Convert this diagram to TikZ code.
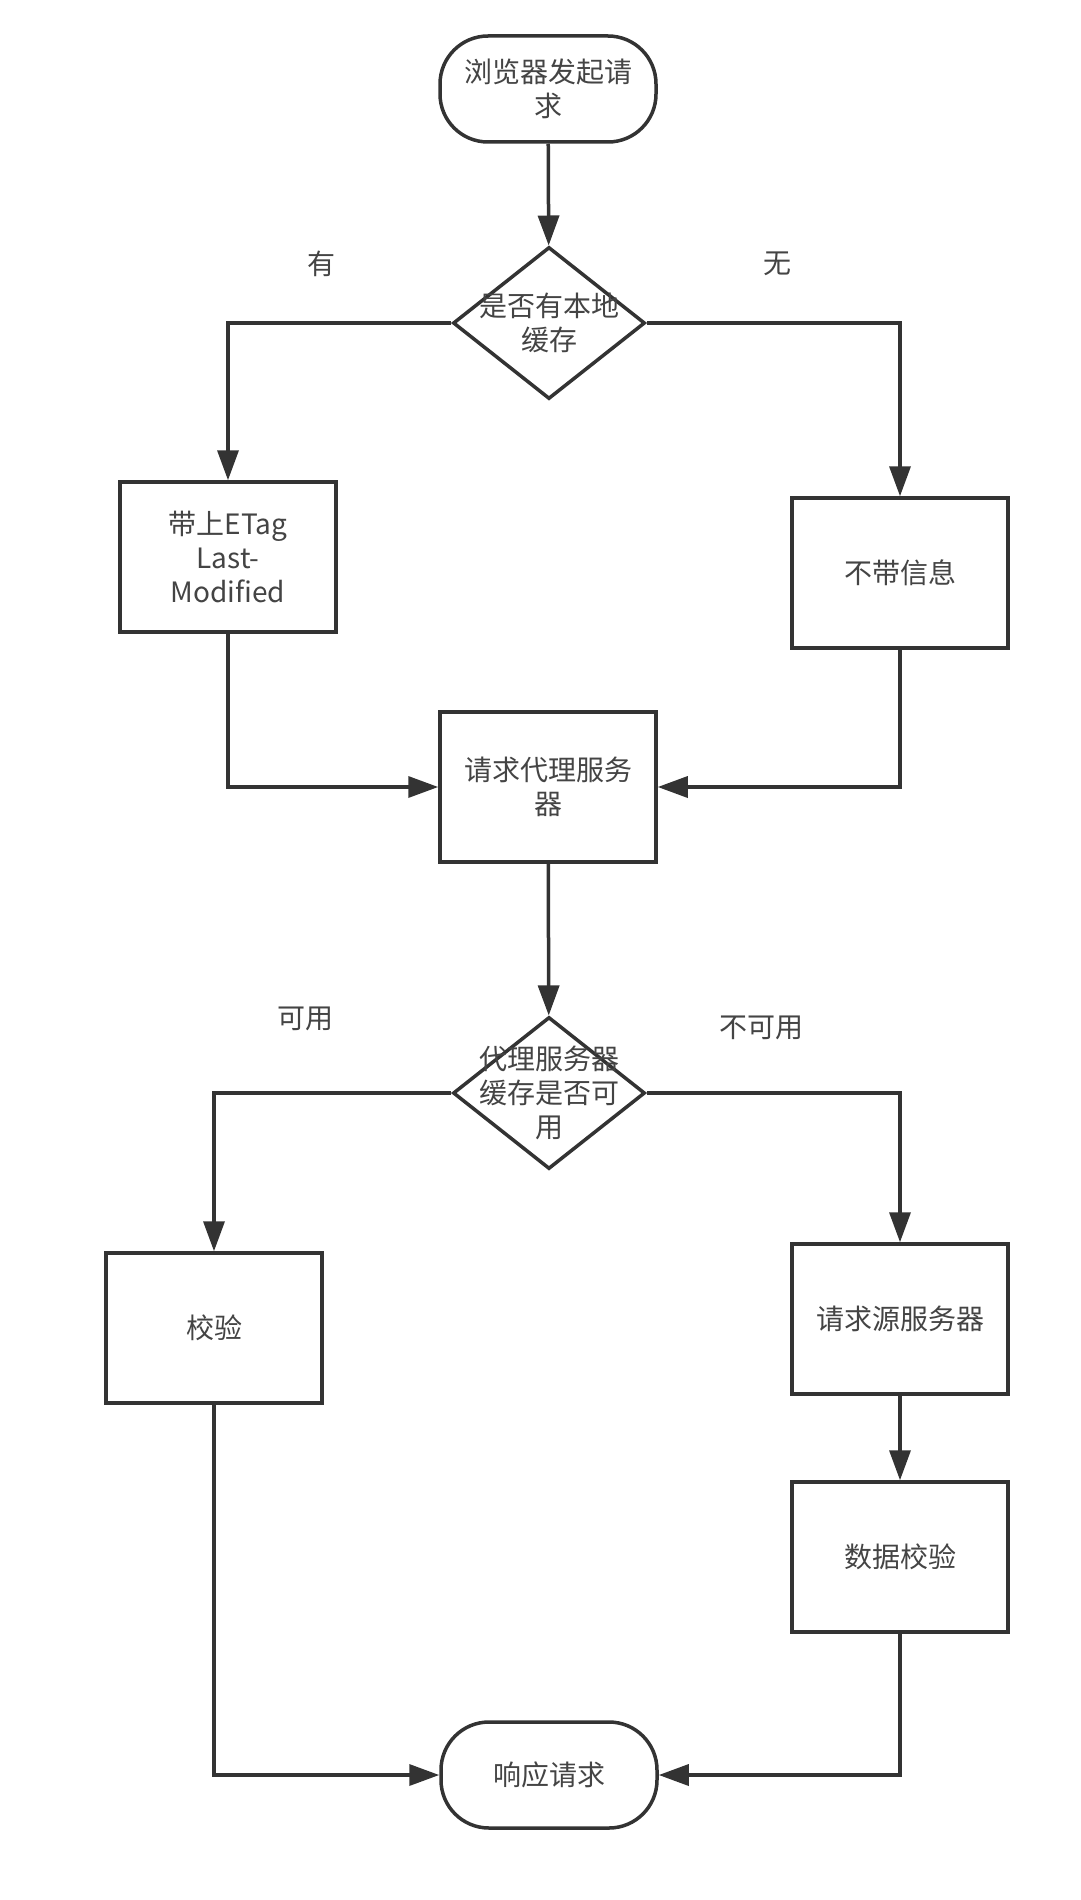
\documentclass[tikz,border=0pt]{standalone}
\usepackage{fontspec}
\setmainfont{Noto Sans CJK SC}
\usetikzlibrary{arrows.meta,shapes.geometric}
\definecolor{ink}{HTML}{333333}
\definecolor{txt}{HTML}{444444}
\tikzset{
	box/.style={draw=ink, line width=3.5pt, minimum width=216pt, minimum height=150pt, inner sep=0pt, align=center, text=txt},
	term/.style={box, minimum height=106pt, rounded corners=48pt},
	decision/.style={draw=ink, line width=3.5pt, diamond, minimum width=192pt, minimum height=152pt, inner sep=0pt},
	arr/.style={draw=ink, line width=3.5pt, -{Triangle[length=30pt,width=21pt]}},
	lbl/.style={text=txt}
}
\begin{document}
\begin{tikzpicture}[x=1pt, y=-1pt, font=\fontsize{28}{34}\selectfont]
				\useasboundingbox[fill=white] (0,0) rectangle (1080,1900);
				
				\node[term] (start) at (548,89) {浏览器发起请\\求};
				\node[decision, label={[align=center, text=txt]center:是否有本地\\缓存}] (d1) at (549,323) {};
				\node[box] (etag) at (228,557) {带上ETag\\Last-\\Modified};
				\node[box] (noinfo) at (900,573) {不带信息};
				\node[box] (proxy) at (548,787) {请求代理服务\\器};
				\node[decision, label={[align=center, text=txt]center:代理服务器\\缓存是否可\\用}] (d2) at (549,1093) {};
				\node[box] (check) at (214,1328) {校验};
				\node[box] (origin) at (900,1319) {请求源服务器};
				\node[box] (datacheck) at (900,1557) {数据校验};
				\node[term] (resp) at (549,1775) {响应请求};
				
				\node[lbl] (yes) at (321,264) {有};
				\node[lbl] (no) at (777,264) {无};
				\node[lbl] (ok) at (305,1019) {可用};
				\node[lbl] (notok) at (761,1028) {不可用};
				
				\draw[arr] (start) -- (d1);
				\draw[arr] (d1.west) -| (etag.north);
				\draw[arr] (d1.east) -| (noinfo.north);
				\draw[arr] (etag.south) |- (proxy.west);
				\draw[arr] (noinfo.south) |- (proxy.east);
				\draw[arr] (proxy) -- (d2);
				\draw[arr] (d2.west) -| (check.north);
				\draw[arr] (d2.east) -| (origin.north);
				\draw[arr] (origin) -- (datacheck);
				\draw[arr] (check.south) |- (resp.west);
				\draw[arr] (datacheck.south) |- (resp.east);
			\end{tikzpicture}
\end{document}
